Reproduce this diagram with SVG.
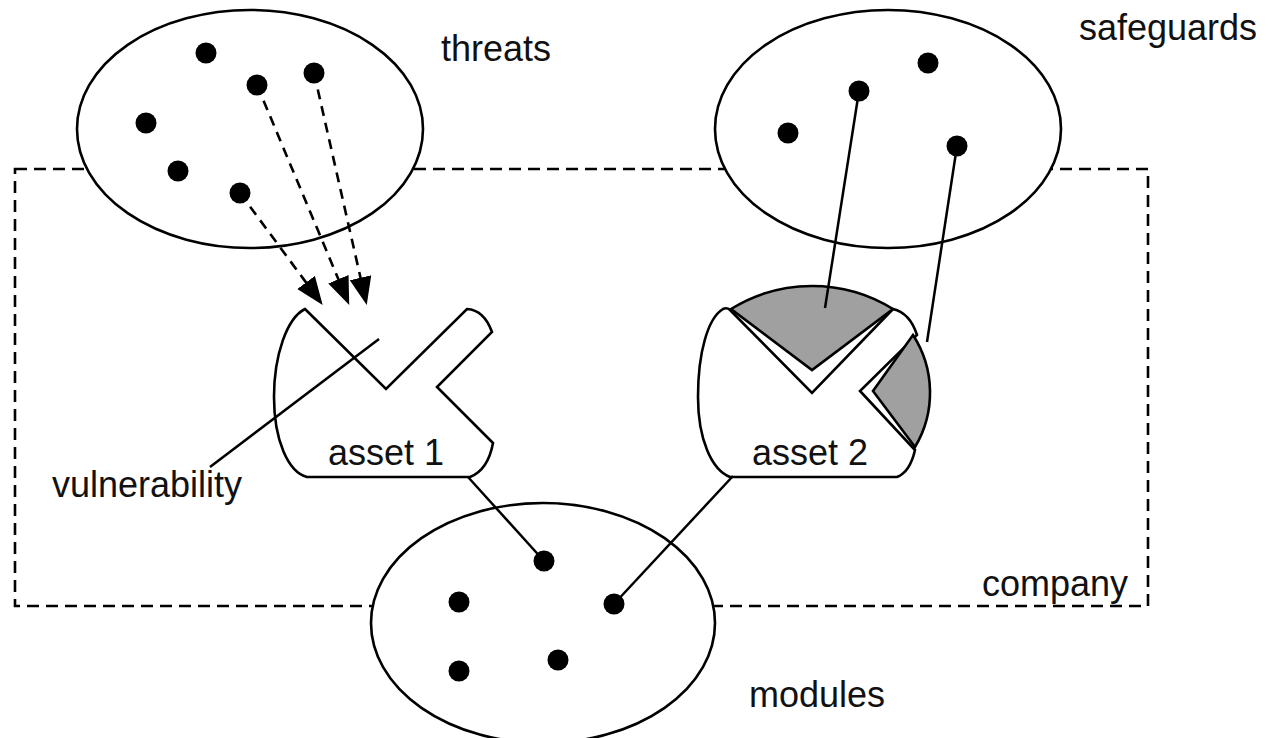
<svg xmlns="http://www.w3.org/2000/svg" width="1270" height="738" viewBox="0 0 1270 738">
<style>
.lbl{font-family:"Liberation Sans",Arial,Helvetica,sans-serif;font-size:36px;fill:#111}
.ell{fill:#fff;stroke:#000;stroke-width:2.6}
.dot{fill:#000}
.solid{stroke:#000;stroke-width:2.5;fill:none}
.dash{stroke:#000;stroke-width:2.6;fill:none;stroke-dasharray:10 7}
.asset{fill:#fff;stroke:#000;stroke-width:2.6;stroke-linejoin:miter}
.guard{fill:#a0a0a0;stroke:#000;stroke-width:2.6;stroke-linejoin:miter}
</style>
<defs>
<marker id="ah" markerUnits="userSpaceOnUse" markerWidth="30" markerHeight="24" refX="8" refY="11" orient="auto">
<path d="M0,0 L28,11 L0,22 Z" fill="#000"/>
</marker>
</defs>
<rect width="1270" height="738" fill="#fff"/>
<g id="company">
<rect x="15" y="169" width="1133" height="437" fill="none" stroke="#000" stroke-width="2.6" stroke-dasharray="12 7"/>
<text class="lbl" x="982" y="596">company</text>
</g>
<g id="threats">
<ellipse class="ell" cx="250" cy="129" rx="173" ry="119"/>
<circle class="dot" cx="206" cy="53" r="10.5"/>
<circle class="dot" cx="257" cy="85" r="10.5"/>
<circle class="dot" cx="314" cy="73" r="10.5"/>
<circle class="dot" cx="146" cy="123" r="10.5"/>
<circle class="dot" cx="178" cy="171" r="10.5"/>
<circle class="dot" cx="240" cy="193" r="10.5"/>
<text class="lbl" x="441" y="61">threats</text>
</g>
<g id="safeguards">
<ellipse class="ell" cx="888" cy="129" rx="173" ry="119"/>
<circle class="dot" cx="788" cy="133" r="10.5"/>
<circle class="dot" cx="859" cy="91" r="10.5"/>
<circle class="dot" cx="928" cy="63" r="10.5"/>
<circle class="dot" cx="957" cy="146" r="10.5"/>
<text class="lbl" x="1079" y="40">safeguards</text>
</g>
<g id="modules">
<ellipse class="ell" cx="543" cy="623" rx="172" ry="120"/>
<circle class="dot" cx="544" cy="561" r="10.5"/>
<circle class="dot" cx="459" cy="602" r="10.5"/>
<circle class="dot" cx="614" cy="604" r="10.5"/>
<circle class="dot" cx="459" cy="671" r="10.5"/>
<circle class="dot" cx="558" cy="660" r="10.5"/>
<text class="lbl" x="749" y="707">modules</text>
</g>
<g id="asset1">
<path class="asset" d="M305,309 L386,389 L467,309 Q484,310 492,332 L437,387 L493,443 Q488,470 470,477 L307,477 C288,472 274,440 274,397 C274,355 287,318 305,309 Z"/>
<text class="lbl" x="328" y="465">asset 1</text>
</g>
<g id="asset2">
<path class="asset" d="M730,310 L812,393 L893,309 Q910,313 917,335 L860,391 L915,450 Q910,472 897,477 L730,477 C712,470 698,440 698,397 C698,352 708,318 723,309 Q727,307 730,310 Z"/>
<path class="guard" d="M731,309 A154,154 0 0 1 893,309 L812,370 Z"/>
<path class="guard" d="M913,335 A106,106 0 0 1 915,447 L873,391 Z"/>
<text class="lbl" x="752" y="465">asset 2</text>
</g>
<g id="vulnerability">
<text class="lbl" x="52" y="497">vulnerability</text>
</g>
<g id="connectors">
<line class="dash" x1="240" y1="193" x2="310.8" y2="288.9" marker-end="url(#ah)"/>
<line class="dash" x1="257" y1="85" x2="341.5" y2="286.6" marker-end="url(#ah)"/>
<line class="dash" x1="314" y1="73" x2="362.3" y2="285.5" marker-end="url(#ah)"/>
<line class="solid" x1="859" y1="91" x2="825" y2="308"/>
<line class="solid" x1="957" y1="146" x2="927" y2="342"/>
<line class="solid" x1="379" y1="339" x2="210" y2="467"/>
<line class="solid" x1="468" y1="477" x2="544" y2="561"/>
<line class="solid" x1="733" y1="476" x2="614" y2="604"/>
</g>
</svg>
